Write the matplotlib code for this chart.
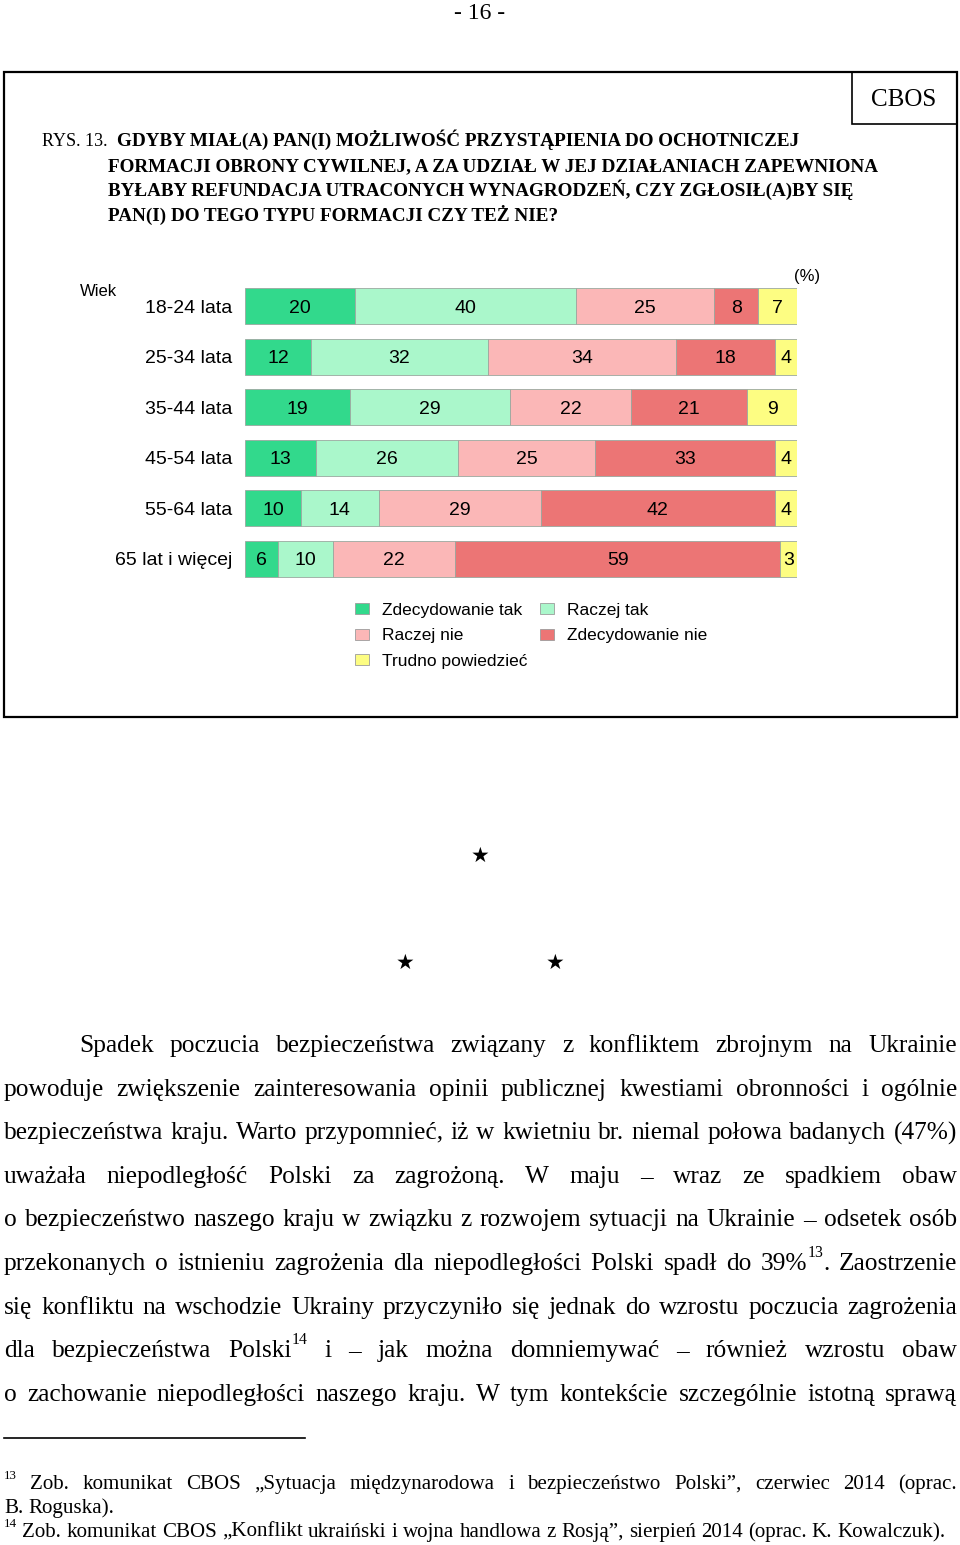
import matplotlib
matplotlib.use("Agg")
import matplotlib.pyplot as plt
from matplotlib.patches import Patch, Rectangle
from matplotlib.lines import Line2D
import numpy as np

# ---------------- data ----------------
categories = ['18-24 lata', '25-34 lata', '35-44 lata', '45-54 lata', '55-64 lata', '65 lat i więcej']
series_names = ['Zdecydowanie tak', 'Raczej tak', 'Raczej nie', 'Zdecydowanie nie', 'Trudno powiedzieć']
zdecydowanie_tak = [20, 12, 19, 13, 10, 6]
raczej_tak = [40, 32, 29, 26, 14, 10]
raczej_nie = [25, 34, 22, 25, 29, 22]
zdecydowanie_nie = [8, 18, 21, 33, 42, 59]
trudno_powiedziec = [7, 4, 9, 4, 4, 3]
colors = ['#32d98c', '#aaf7cb', '#fbb7b7', '#ec7575', '#fdfd82']

title_lines = [
    "GDYBY MIAŁ(A) PAN(I) MOŻLIWOŚĆ PRZYSTĄPIENIA DO OCHOTNICZEJ",
    "FORMACJI OBRONY CYWILNEJ, A ZA UDZIAŁ W JEJ DZIAŁANIACH ZAPEWNIONA",
    "BYŁABY REFUNDACJA UTRACONYCH WYNAGRODZEŃ, CZY ZGŁOSIŁ(A)BY SIĘ",
    "PAN(I) DO TEGO TYPU FORMACJI CZY TEŻ NIE?",
]

body_lines = [
    "Spadek poczucia bezpieczeństwa związany z konfliktem zbrojnym na Ukrainie",
    "powoduje zwiększenie zainteresowania opinii publicznej kwestiami obronności i ogólnie",
    "bezpieczeństwa kraju. Warto przypomnieć, iż w kwietniu br. niemal połowa badanych (47%)",
    "uważała niepodległość Polski za zagrożoną. W maju – wraz ze spadkiem obaw",
    "o bezpieczeństwo naszego kraju w związku z rozwojem sytuacji na Ukrainie – odsetek osób",
    "przekonanych o istnieniu zagrożenia dla niepodległości Polski spadł do 39%^13. Zaostrzenie",
    "się konfliktu na wschodzie Ukrainy przyczyniło się jednak do wzrostu poczucia zagrożenia",
    "dla bezpieczeństwa Polski^14 i – jak można domniemywać – również wzrostu obaw",
    "o zachowanie niepodległości naszego kraju. W tym kontekście szczególnie istotną sprawą",
]
footnote_lines = [
    "^13 Zob. komunikat CBOS „Sytuacja międzynarodowa i bezpieczeństwo Polski”, czerwiec 2014 (oprac.",
    "B. Roguska).",
    "^14 Zob. komunikat CBOS „Konflikt ukraiński i wojna handlowa z Rosją”, sierpień 2014 (oprac. K. Kowalczuk).",
]

# ---------------- figure ----------------
W, H = 960, 1545
fig = plt.figure(figsize=(W / 100, H / 100), dpi=100)
fig.patch.set_facecolor('white')
SERIF = 'Liberation Serif'
SANS = 'Liberation Sans'


def fx(x):
    return x / W


def fy(y):
    return 1 - y / H


renderer = fig.canvas.get_renderer()

# page number
fig.text(fx(480), fy(19), '- 16 -', family=SERIF, fontsize=17, ha='center', va='baseline')

# frame
fig.add_artist(Rectangle((fx(4), fy(717)), fx(953), (717 - 72) / H, transform=fig.transFigure,
                         fill=False, lw=1.6, edgecolor='black'))
fig.add_artist(Rectangle((fx(852), fy(124)), fx(105), (124 - 72) / H, transform=fig.transFigure,
                         fill=False, lw=1.2, edgecolor='black'))
fig.text(fx(904), fy(106), 'CBOS', family=SERIF, fontsize=18, ha='center', va='baseline')

# title
TS = 13.75
fig.text(fx(42), fy(146), 'RYS. 13. ', family=SERIF, fontsize=13, ha='left', va='baseline')
fig.text(fx(117), fy(146), title_lines[0], family=SERIF, fontsize=TS, weight='bold', ha='left', va='baseline')
for i, ln in enumerate(title_lines[1:]):
    fig.text(fx(108), fy(171 + 25 * i), ln, family=SERIF, fontsize=TS, weight='bold', ha='left', va='baseline')

# ---------------- chart ----------------
ax = fig.add_axes([fx(245), fy(584), 552 / W, (584 - 281) / H])
data = np.array([zdecydowanie_tak, raczej_tak, raczej_nie, zdecydowanie_nie, trudno_powiedziec], dtype=float)
totals = data.sum(axis=0)
pct = data / totals * 100
ypos = np.arange(len(categories))
left = np.zeros(len(categories))
handles = []
for k in range(len(series_names)):
    ax.barh(ypos, pct[k], left=left, height=0.71, color=colors[k], edgecolor='#9aa89f', linewidth=0.6,
            label=series_names[k])
    for j in range(len(categories)):
        ax.text(left[j] + pct[k][j] / 2, ypos[j] + 0.04, f'{int(data[k][j])}', ha='center', va='center',
                family=SANS, fontsize=14)
    left += pct[k]
    handles.append(Patch(facecolor=colors[k], edgecolor='#9c9c9c', linewidth=0.6))
ax.set_xlim(0, 100)
ax.set_ylim(len(categories) - 0.5, -0.5)
ax.set_yticks(ypos)
ax.set_yticklabels(categories, family=SANS, fontsize=14)
ax.tick_params(axis='y', length=0, pad=9)
ax.set_xticks([])
for s in ax.spines.values():
    s.set_visible(False)
ax.patch.set_alpha(0)

fig.text(fx(80), fy(292), 'Wiek', family=SANS, fontsize=12, ha='left', va='center')
fig.text(fx(807), fy(277), '(%)', family=SANS, fontsize=12, ha='center', va='center')

order = [0, 2, 4, 1, 3]
leg = fig.legend([handles[i] for i in order], [series_names[i] for i in order], loc='upper left',
                 bbox_to_anchor=(fx(355), fy(603)), ncol=2, frameon=False, prop={'family': SANS, 'size': 12.5},
                 handlelength=0.8, handleheight=0.6, handletextpad=0.75, columnspacing=0.75,
                 labelspacing=0.6, borderpad=0, borderaxespad=0)

# stars
for (sx, sy) in [(480, 856), (405, 963), (555, 963)]:
    fig.text(fx(sx), fy(sy), '★', family='DejaVu Sans', fontsize=15, ha='center', va='center')


# ---------------- justified text ----------------
def parse_word(w, size):
    """Split a word into segments: (text, fontsize, raise_pt)."""
    segs = []
    parts = w.split('^')
    segs.append((parts[0], size, 0))
    for p in parts[1:]:
        num = ''.join(ch for ch in p if ch.isdigit())
        rest = p[len(num):]
        segs.append((num, size * 0.62, size * 0.5))
        if rest:
            segs.append((rest, size, 0))
    return [s for s in segs if s[0]]


def draw_line(text, y, x0, x1, size, justify=True):
    words = text.split(' ')
    objs = []
    wwidths = []
    for w in words:
        segs = parse_word(w, size)
        items = []
        tot = 0
        for (s, fs, dy) in segs:
            t = fig.text(0, 0, s, family=SERIF, fontsize=fs, ha='left', va='baseline')
            wd = t.get_window_extent(renderer).width
            items.append((t, wd, dy))
            tot += wd
        objs.append(items)
        wwidths.append(tot)
    if justify and len(words) > 1:
        gap = (x1 - x0 - sum(wwidths)) / (len(words) - 1)
    else:
        sp = fig.text(0, 0, 'a a', family=SERIF, fontsize=size)
        sp2 = fig.text(0, 0, 'aa', family=SERIF, fontsize=size)
        gap = sp.get_window_extent(renderer).width - sp2.get_window_extent(renderer).width
        sp.remove(); sp2.remove()
    x = x0
    for items, tw in zip(objs, wwidths):
        xx = x
        for (t, wd, dy) in items:
            t.set_position((fx(xx), fy(y - dy * 100 / 72)))
            xx += wd
        x += tw + gap


BODY = 18.3
base = 1052
for i, ln in enumerate(body_lines):
    x0 = 79 if i == 0 else 4
    draw_line(ln, base + i * 43.6, x0, 957, BODY, justify=True)

# footnote separator
fig.add_artist(Line2D([fx(4), fx(305)], [fy(1438), fy(1438)], color='black', lw=1.2, transform=fig.transFigure))
FN = 15.1
draw_line(footnote_lines[0], 1489, 4, 957, FN, justify=True)
draw_line(footnote_lines[1], 1513, 4, 957, FN, justify=False)
draw_line(footnote_lines[2], 1537, 4, 957, FN, justify=False)

fig.savefig('out.png', dpi=100, facecolor='white')
